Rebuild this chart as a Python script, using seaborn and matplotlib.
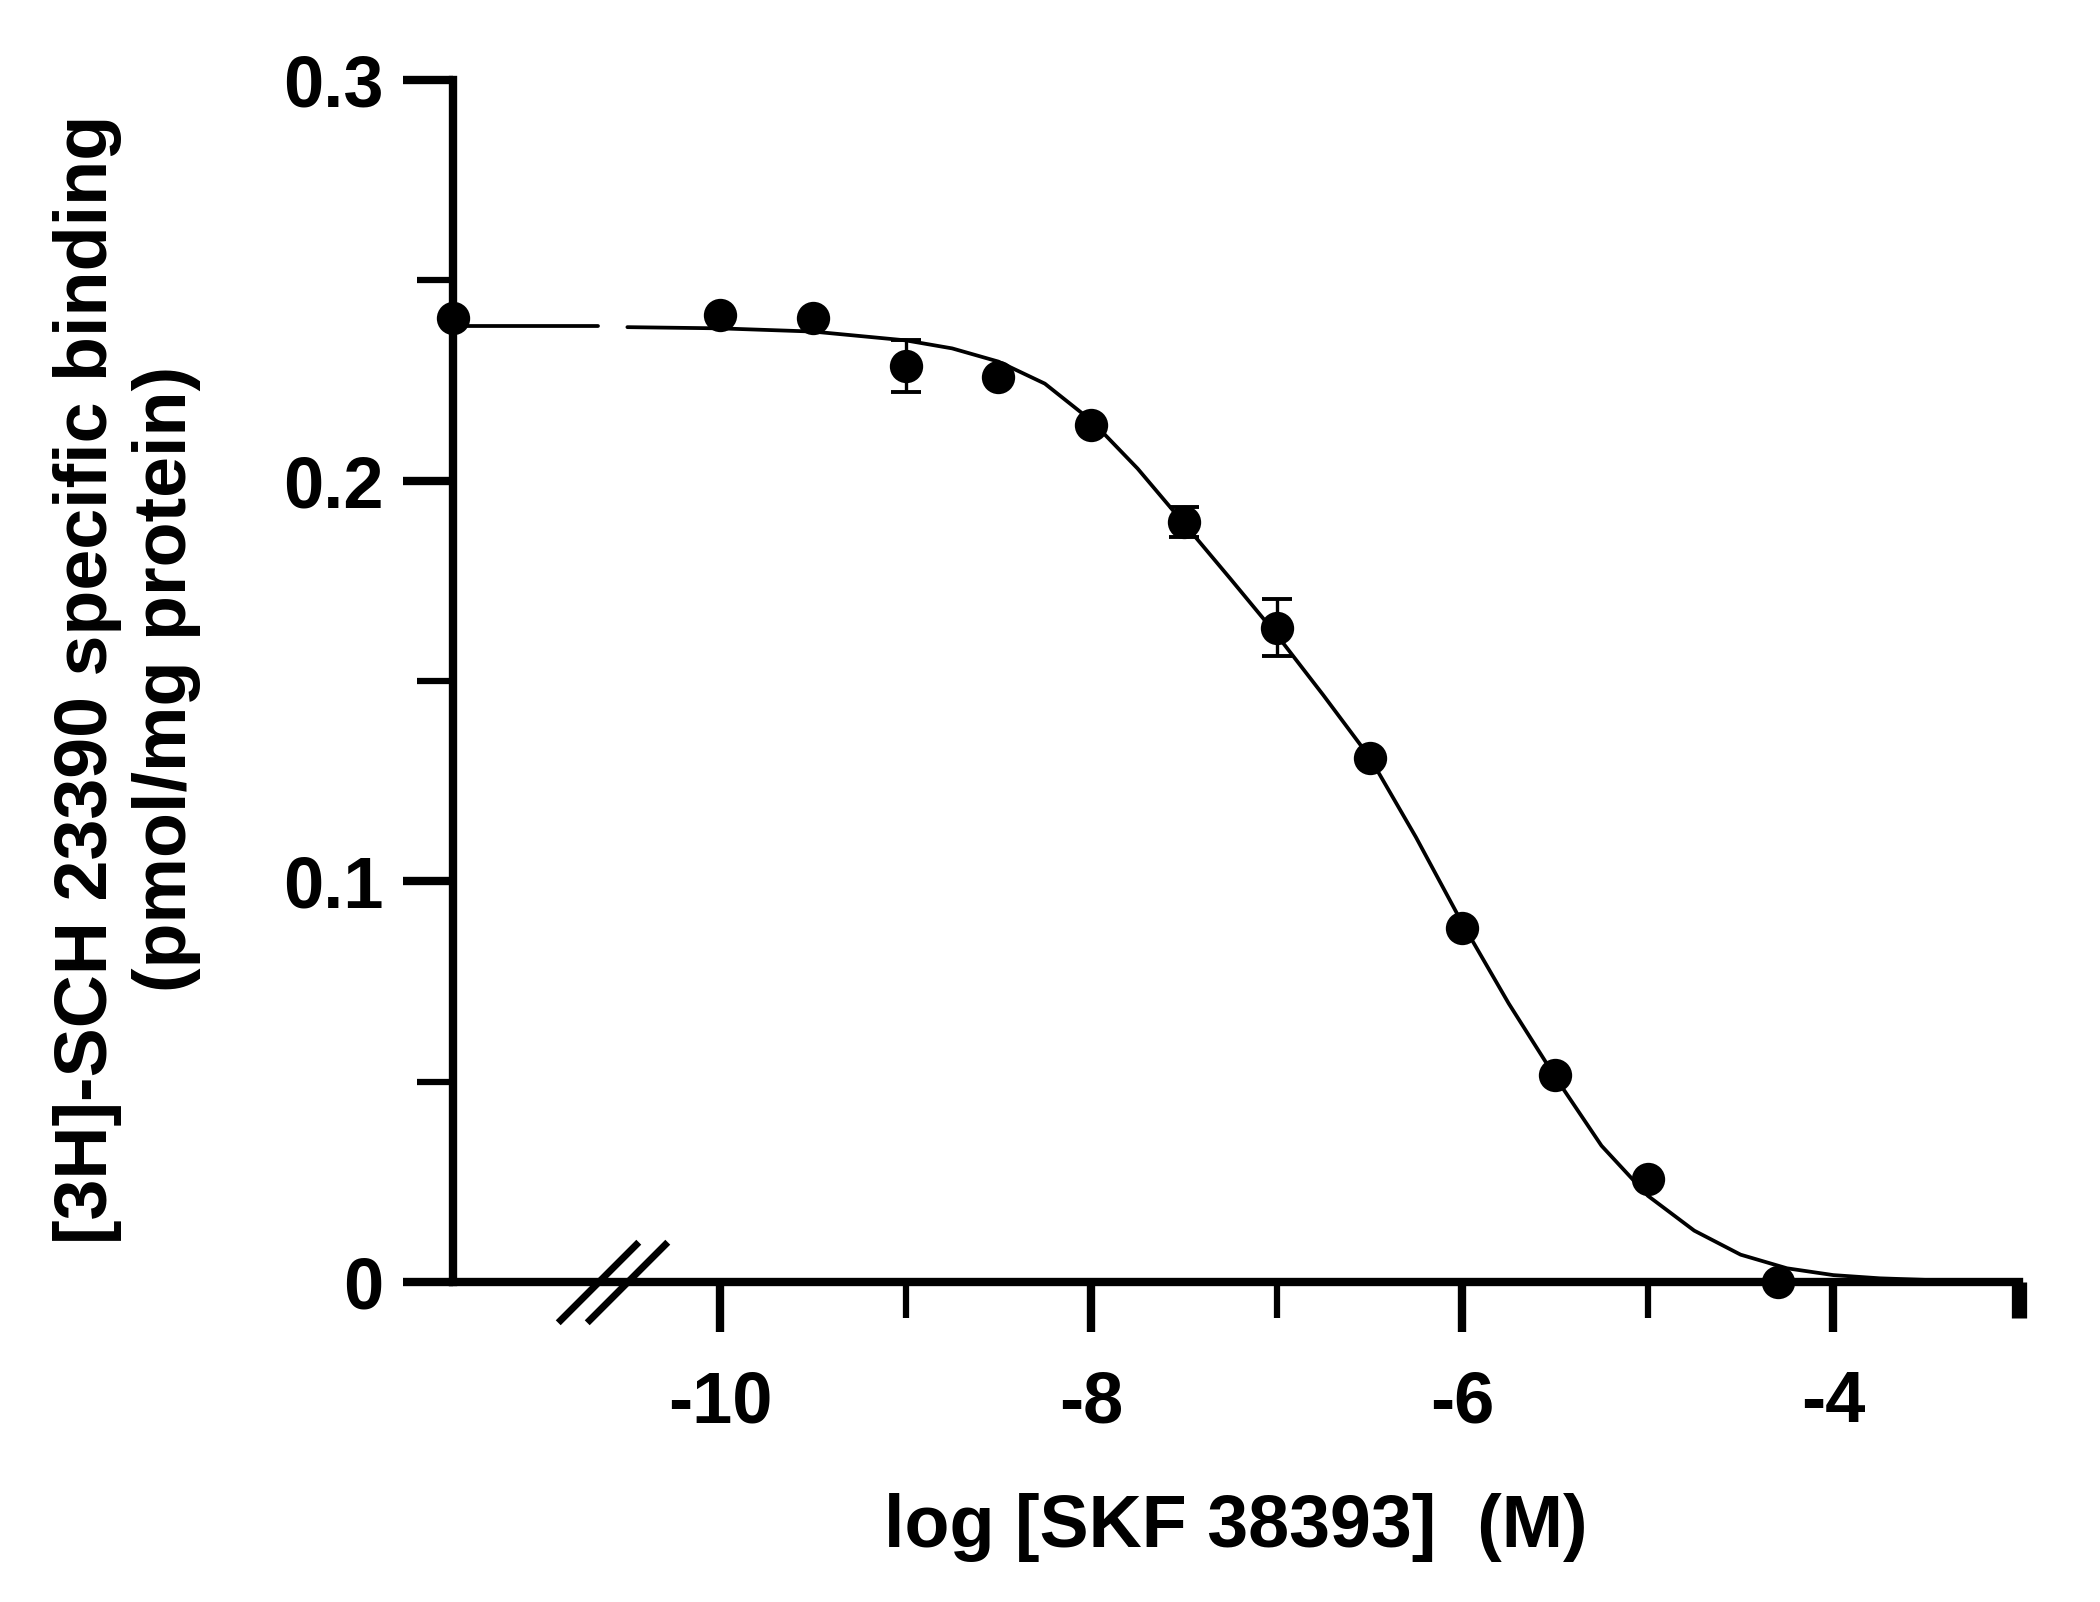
"""Competition binding curve: [3H]-SCH 23390 displaced by SKF 38393."""

import matplotlib
matplotlib.use("Agg")
import matplotlib.pyplot as plt
from matplotlib.path import Path
import pandas as pd
import seaborn as sns

# ---- data ----
log_conc = [-10.0, -9.5, -9.0, -8.5, -8.0, -7.5, -7.0, -6.5, -6.0, -5.5, -5.0, -4.3]
binding = [0.2413, 0.2407, 0.2285, 0.2259, 0.2139, 0.1897, 0.1633, 0.1308, 0.0884, 0.0517, 0.0256, 0.0]
sem = [0.0, 0.0, 0.0065, 0.0, 0.0, 0.0038, 0.0072, 0.0, 0.0, 0.0, 0.0, 0.0]

# control (no competitor), drawn on the y axis left of the break
control_binding = 0.2406

# fitted curve
fit_x = [-10.5, -10.0, -9.5, -9.0, -8.75, -8.5, -8.25, -8.0, -7.75, -7.5, -7.25,
         -7.0, -6.75, -6.5, -6.25, -6.0, -5.75, -5.5, -5.25, -5.0, -4.75, -4.5,
         -4.25, -4.0, -3.75, -3.5, -3.0]
fit_y = [0.2383, 0.2380, 0.2372, 0.2350, 0.2330, 0.2297, 0.2242, 0.2150, 0.2030, 0.1893, 0.1755,
         0.1615, 0.1465, 0.1310, 0.1110, 0.0895, 0.0695, 0.0512, 0.0340, 0.0215, 0.0128, 0.0068,
         0.0034, 0.0017, 0.0009, 0.0005, 0.0002]
fit_plateau = 0.2385

x_major = [-10, -8, -6, -4]
x_minor = [-9, -7, -5, -3]
y_major = [0.0, 0.1, 0.2, 0.3]
y_major_labels = ["0", "0.1", "0.2", "0.3"]
y_minor = [0.05, 0.15, 0.25]

X_LEFT, X_RIGHT = -11.44, -3.0
BREAK_LO, BREAK_HI = -10.66, -10.50

sns.set_style("ticks", {"axes.edgecolor": "black", "xtick.color": "black",
                        "ytick.color": "black", "text.color": "black",
                        "axes.labelcolor": "black"})
plt.rcParams["font.family"] = ["Liberation Sans", "DejaVu Sans"]
plt.rcParams["font.weight"] = "bold"

fig = plt.figure(figsize=(21, 16.02), dpi=100)
ax = fig.add_axes([0.2157, 0.1998, 0.7457, 0.7503])

df_fit = pd.DataFrame({"x": fit_x, "y": fit_y})
df_ctrl_line = pd.DataFrame({"x": [X_LEFT, BREAK_LO], "y": [fit_plateau, fit_plateau]})
for df_line in (df_fit, df_ctrl_line):
    sns.lineplot(data=df_line, x="x", y="y", ax=ax, color="black", linewidth=2.7,
                 sort=False, estimator=None, clip_on=False, zorder=3,
                 solid_joinstyle="round")

ax.errorbar(log_conc, binding, yerr=sem, fmt="none", ecolor="black",
            elinewidth=2.4, capsize=11, capthick=2.8, zorder=4, clip_on=False)
df_pts = pd.DataFrame({"x": log_conc + [X_LEFT], "y": binding + [control_binding]})
sns.scatterplot(data=df_pts, x="x", y="y", ax=ax, color="black", s=24 ** 2,
                edgecolor="black", linewidth=0, zorder=5, clip_on=False)

# axis break marks
slash = Path([(-1, -1), (1, 1)], [Path.MOVETO, Path.LINETO])
ax.plot([BREAK_LO, BREAK_HI], [0, 0], linestyle="none", marker=slash, markersize=58,
        markeredgewidth=5, color="black", clip_on=False, zorder=6)

ax.set_xlim(X_LEFT, X_RIGHT)
ax.set_ylim(0, 0.3)
ax.set_xticks(x_major)
ax.set_xticklabels([str(v) for v in x_major])
ax.set_xticks(x_minor, minor=True)
ax.set_yticks(y_major)
ax.set_yticklabels(y_major_labels)
ax.set_yticks(y_minor, minor=True)
ax.set_xlabel("")
ax.set_ylabel("")

sns.despine(ax=ax)
for side in ("left", "bottom"):
    ax.spines[side].set_linewidth(6)
    ax.spines[side].set_color("black")
    ax.spines[side].set_zorder(2)
ax.tick_params(which="major", length=36, width=6, labelsize=52, color="black",
               labelcolor="black")
ax.tick_params(which="minor", length=26, width=4.5, color="black")
ax.tick_params(axis="y", which="major", pad=14)
ax.tick_params(axis="x", which="major", pad=27)
# heavy end stub at the right end of the x axis
ax.xaxis.get_minor_ticks()[-1].tick1line.set_markeredgewidth(11)

fig.text(0.0605, 0.576, "[3H]-SCH 23390 specific binding\n(pmol/mg protein)",
         rotation=90, ha="center", va="center", multialignment="center",
         fontsize=53, fontweight="bold", linespacing=1.2)
fig.text(0.5885, 0.0468, "log [SKF 38393]  (M)", ha="center", va="center",
         fontsize=53, fontweight="bold")

fig.savefig("out.png", dpi=100)
plt.close(fig)
